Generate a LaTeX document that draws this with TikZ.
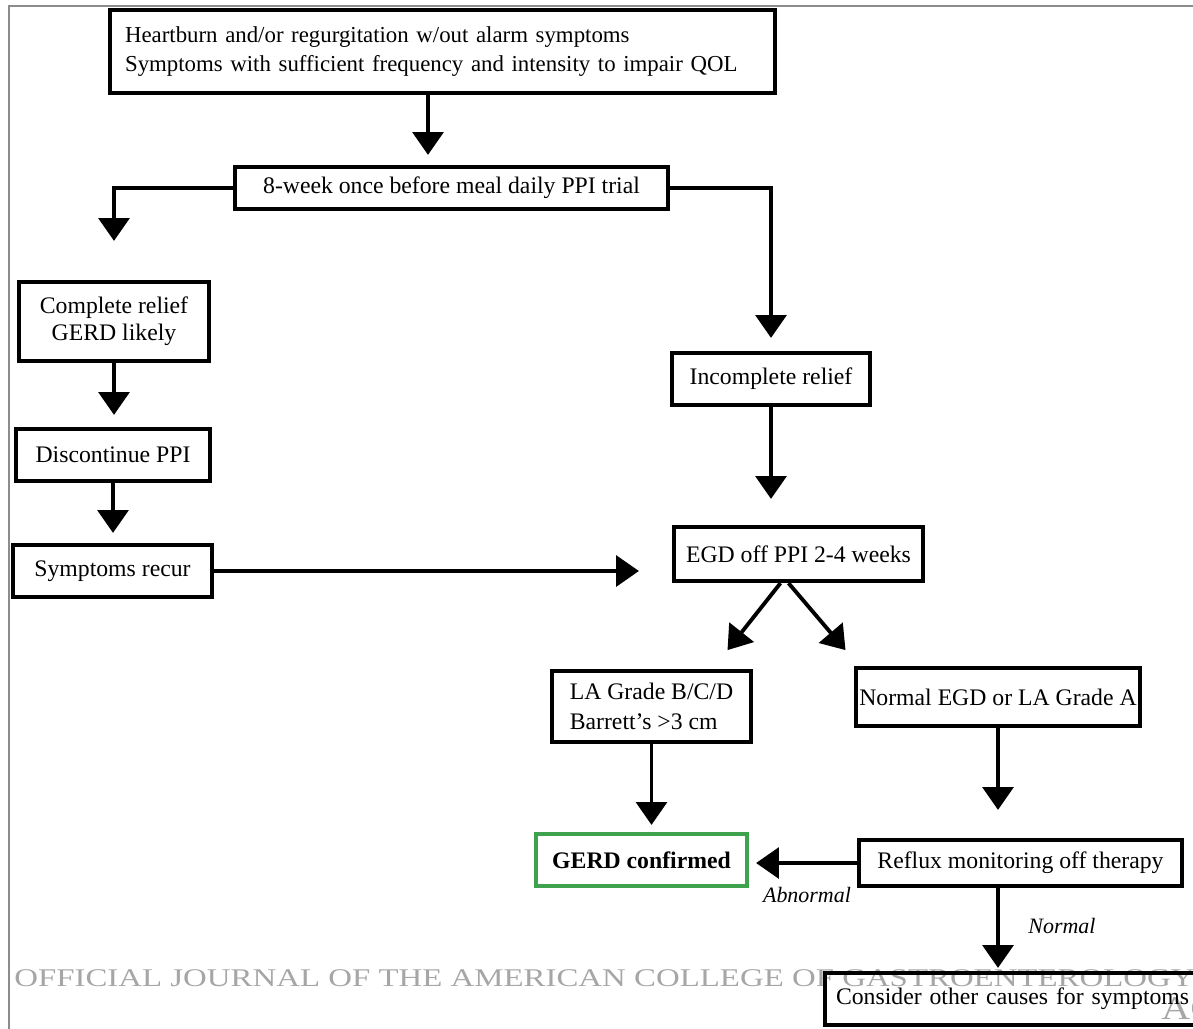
\documentclass[tikz,border=0pt]{standalone}
\usepackage{fontspec}
\setmainfont{Liberation Serif}
\usetikzlibrary{arrows.meta,positioning,calc}
\definecolor{Ink}{HTML}{000000}
\definecolor{Leaf}{HTML}{3FA34D}
\definecolor{Frame}{HTML}{8C8C8C}
\definecolor{Mark}{HTML}{A6A6A6}

\begin{document}
\begin{tikzpicture}[x=0.02cm,y=-0.02cm,
box/.style={draw=Ink,line width=2.4pt,align=center,inner sep=0pt,font=\fontsize{13.5}{17}\selectfont},
arr/.style={-{Triangle[length=13pt,width=17.5pt]},line width=2.2pt,draw=Ink},
tag/.style={font=\fontsize{12.5}{15}\selectfont\itshape},
watermark/.style={text=Mark,inner sep=0pt,font=\fontsize{14.5}{16}\selectfont}]
\clip (0,0) rectangle (1193,1028);
\draw[Frame,line width=1.2pt] (9,6) rectangle (1230,1060);
\node[watermark,anchor=west] (journal) at (14,978) {\scalebox{1.29}[1]{OFFICIAL JOURNAL OF THE AMERICAN COLLEGE OF GASTROENTEROLOGY}};
\node[watermark,anchor=west,font=\fontsize{19}{20}\selectfont] (acg) at (1161,1009) {\scalebox{1.2}[1]{ACG}};
\coordinate (colM) at (428,0);
\node[box,minimum width=13.3cm,minimum height=1.66cm,text width=12.7cm,align=left,font=\fontsize{13}{17}\selectfont] (top) at (442.5,51.5) {Heartburn and/or regurgitation w/out alarm symptoms\\Symptoms with sufficient frequency and intensity to impair QOL};
\node[box,minimum width=8.66cm,minimum height=0.84cm] (ppi) at (451.5,188) {8-week once before meal daily PPI trial};
\node[box,minimum width=3.8cm,minimum height=1.58cm,font=\fontsize{13.5}{15.5}\selectfont] (relief) at (114,321.5) {Complete relief\\GERD likely};
\node[box,minimum width=3.88cm,minimum height=1.04cm] (discont) at (113,455) {Discontinue PPI};
\node[box,minimum width=3.98cm,minimum height=1.04cm] (recur) at (112.5,571) {Symptoms recur};
\node[box,minimum width=3.96cm,minimum height=1.04cm] (incomp) at (771,379) {Incomplete relief};
\node[box,minimum width=4.98cm,minimum height=1.08cm] (egd) at (798.5,554) {EGD off PPI 2-4 weeks};
\node[box,minimum width=3.98cm,minimum height=1.42cm,align=left] (la) at (651.5,706.5) {LA Grade B/C/D\\Barrett’s >3 cm};
\node[box,minimum width=5.68cm,minimum height=1.16cm] (normal) at (998,697) {Normal EGD or LA Grade A};
\node[box,draw=Leaf,minimum width=4.22cm,minimum height=1.04cm,font=\fontsize{13.5}{17}\selectfont\bfseries] (gerd) at (641.5,860) {GERD confirmed};
\node[box,minimum width=6.46cm,minimum height=0.92cm] (reflux) at (1020.5,863) {Reflux monitoring off therapy};
\node[box,minimum width=7.8cm,minimum height=1.04cm,text width=7.36cm,align=left] (consider) at (1020,999) {Consider other causes for symptoms};
\node[tag] (abn) at (807,895) {Abnormal};
\node[tag] (nrm) at (1062,926) {Normal};
\draw[arr,shorten >=0.2cm] (top.south -| colM) -- (ppi.north -| colM);
\draw[arr,shorten >=0.78cm] (ppi.west) -| (relief.north);
\draw[arr,shorten >=0.26cm] (ppi.east) -| (incomp.north);
\draw[arr,shorten >=0.24cm] (relief.south) -- (relief.south |- discont.north);
\draw[arr,shorten >=0.2cm] (discont.south) -- (discont.south |- recur.north);
\draw[arr,shorten >=0.66cm] (recur.east) -- (recur.east -| egd.west);
\draw[arr,shorten >=0.52cm] (incomp.south) -- (incomp.south |- egd.north);
\draw[arr] ($(egd.south)+(-18,0)$) -- ($(egd.south)+(-71,67)$);
\draw[arr] ($(egd.south)+(-10,0)$) -- ($(egd.south)+(47,67)$);
\draw[arr,shorten >=0.14cm] (la.south) -- (la.south |- gerd.north);
\draw[arr,shorten >=0.56cm] (normal.south) -- (normal.south |- reflux.north);
\draw[arr,shorten >=0.14cm] (reflux.west) -- (reflux.west -| gerd.east);
\draw[arr,shorten >=0.06cm] (reflux.south -| normal.south) -- (consider.north -| normal.south);
\end{tikzpicture}
\end{document}
